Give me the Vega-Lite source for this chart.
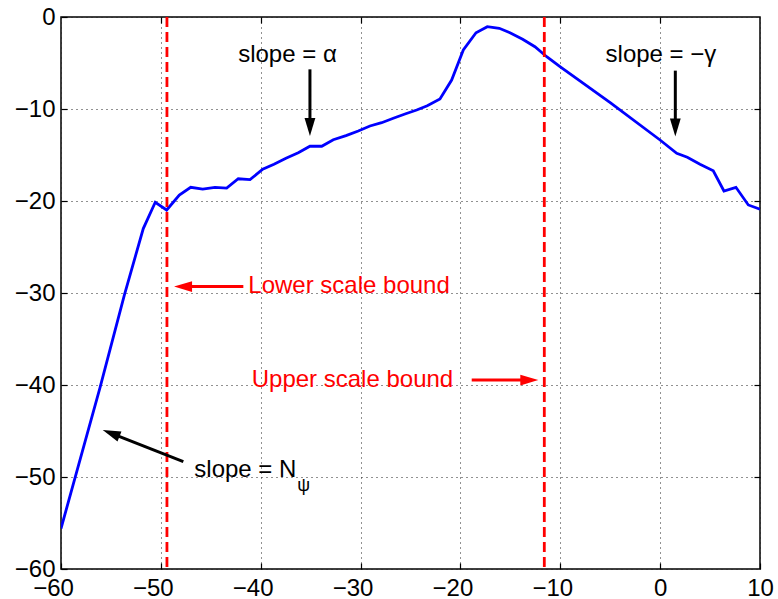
{
  "$schema": "https://vega.github.io/schema/vega-lite/v6.json",
  "width": 699,
  "height": 552,
  "autosize": {"type": "none"},
  "padding": {"left": 61, "top": 17, "right": 18, "bottom": 30},
  "background": "white",
  "config": {
    "view": {"stroke": "black", "strokeWidth": 1.5},
    "font": "Liberation Sans",
    "axis": {
      "labelFont": "Liberation Sans",
      "labelFontSize": 24,
      "labelColor": "black",
      "domain": false,
      "tickColor": "black",
      "tickWidth": 1.2,
      "tickSize": -6,
      "labelFlush": false,
      "labelOverlap": false,
      "labelBound": false,
      "title": null
    }
  },
  "datasets": {
    "curve": [
      {"x": -60.0, "y": -55.6},
      {"x": -56.1, "y": -40.3},
      {"x": -53.65, "y": -30.2},
      {"x": -51.76, "y": -23.0},
      {"x": -50.56, "y": -20.14},
      {"x": -49.42, "y": -20.98},
      {"x": -48.15, "y": -19.35},
      {"x": -47.01, "y": -18.51},
      {"x": -45.81, "y": -18.7},
      {"x": -44.58, "y": -18.51},
      {"x": -43.41, "y": -18.59},
      {"x": -42.25, "y": -17.58},
      {"x": -41.07, "y": -17.68},
      {"x": -39.8, "y": -16.55},
      {"x": -38.67, "y": -16.01},
      {"x": -37.47, "y": -15.36},
      {"x": -36.24, "y": -14.75},
      {"x": -35.07, "y": -14.05},
      {"x": -33.89, "y": -14.05},
      {"x": -32.73, "y": -13.34},
      {"x": -31.46, "y": -12.9},
      {"x": -30.23, "y": -12.39},
      {"x": -29.06, "y": -11.85},
      {"x": -27.89, "y": -11.49},
      {"x": -26.72, "y": -11.01},
      {"x": -25.55, "y": -10.54},
      {"x": -24.38, "y": -10.11},
      {"x": -23.32, "y": -9.64},
      {"x": -22.05, "y": -8.91},
      {"x": -20.88, "y": -6.85},
      {"x": -19.71, "y": -3.59},
      {"x": -18.44, "y": -1.71},
      {"x": -17.31, "y": -1.05},
      {"x": -16.11, "y": -1.23},
      {"x": -15.04, "y": -1.71},
      {"x": -13.77, "y": -2.42},
      {"x": -12.54, "y": -3.23},
      {"x": -11.36, "y": -4.32},
      {"x": -10.03, "y": -5.4},
      {"x": -5.0, "y": -9.3},
      {"x": -0.01, "y": -13.37},
      {"x": 1.66, "y": -14.82},
      {"x": 2.72, "y": -15.25},
      {"x": 3.99, "y": -16.01},
      {"x": 5.32, "y": -16.71},
      {"x": 6.39, "y": -18.91},
      {"x": 7.59, "y": -18.51},
      {"x": 8.83, "y": -20.43},
      {"x": 10.0, "y": -20.9}
    ],
    "bounds": [{"x": -49.39}, {"x": -11.6}],
    "blackShafts": [
      {"x": -35.07, "y": -5.69, "x2": -35.07, "y2": -12.1},
      {"x": 1.52, "y": -5.83, "x2": 1.52, "y2": -12.1},
      {"x": -47.75, "y": -48.33, "x2": -55.08, "y2": -45.2}
    ],
    "redShafts": [
      {"x": -41.74, "y": -29.3, "x2": -47.88, "y2": -29.3},
      {"x": -18.87, "y": -39.46, "x2": -13.0, "y2": -39.46}
    ],
    "headsDown": [{"x": -35.07, "y": -12.93}, {"x": 1.52, "y": -13.0}],
    "headsUpLeft": [{"x": -55.82, "y": -44.89}],
    "headsLeft": [{"x": -48.68, "y": -29.3}],
    "headsRight": [{"x": -12.2, "y": -39.46}],
    "textsCenter": [
      {"x": -37.32, "y": -4.89, "label": "slope = α"},
      {"x": 0.08, "y": -4.86, "label": "slope = −γ"}
    ],
    "textsLeft": [{"x": -46.65, "y": -50.03, "label": "slope = N"}],
    "textsSub": [{"x": -35.7, "y": -51.49, "label": "ψ"}],
    "textsRed": [
      {"x": -41.24, "y": -30.04, "label": "Lower scale bound"},
      {"x": -40.9, "y": -40.25, "label": "Upper scale bound"}
    ]
  },
  "resolve": {"axis": {"x": "independent", "y": "independent"}},
  "layer": [
    {
      "data": {"name": "curve"},
      "mark": {"type": "line", "color": "#0000ff", "strokeWidth": 2.8, "clip": true},
      "encoding": {
        "x": {
          "field": "x", "type": "quantitative",
          "scale": {"domain": [-60, 10], "nice": false, "zero": false},
          "axis": {
            "orient": "bottom",
            "values": [-60, -50, -40, -30, -20, -10, 0, 10],
            "grid": true, "gridColor": "#222", "gridDash": [1, 4], "gridWidth": 1,
            "labelPadding": 13,
            "labelOffset": {"condition": {"test": "datum.value < 0", "value": -8}, "value": 0}
          }
        },
        "y": {
          "field": "y", "type": "quantitative",
          "scale": {"domain": [-60, 0], "nice": false, "zero": false},
          "axis": {
            "orient": "left",
            "values": [-60, -50, -40, -30, -20, -10, 0],
            "grid": true, "gridColor": "#222", "gridDash": [1, 4], "gridWidth": 1,
            "labelPadding": 12
          }
        }
      }
    },
    {
      "data": {"name": "bounds"},
      "mark": {"type": "rule", "color": "#ff0000", "strokeWidth": 2.8, "strokeDash": [10, 5]},
      "encoding": {
        "x": {"field": "x", "type": "quantitative", "axis": null}
      }
    },
    {
      "data": {"name": "blackShafts"},
      "mark": {"type": "rule", "color": "black", "strokeWidth": 3},
      "encoding": {
        "x": {"field": "x", "type": "quantitative",
              "axis": {"orient": "top", "labels": false, "grid": false, "values": [-50, -40, -30, -20, -10, 0]}},
        "y": {"field": "y", "type": "quantitative",
              "axis": {"orient": "right", "labels": false, "grid": false, "values": [-50, -40, -30, -20, -10]}},
        "x2": {"field": "x2"},
        "y2": {"field": "y2"}
      }
    },
    {
      "data": {"name": "redShafts"},
      "mark": {"type": "rule", "color": "#ff0000", "strokeWidth": 3},
      "encoding": {
        "x": {"field": "x", "type": "quantitative", "axis": null},
        "y": {"field": "y", "type": "quantitative", "axis": null},
        "x2": {"field": "x2"},
        "y2": {"field": "y2"}
      }
    },
    {
      "data": {"name": "headsDown"},
      "mark": {"type": "point", "shape": "M0,0L-0.6,2L0.6,2Z", "size": 324, "filled": true, "color": "black", "opacity": 1, "angle": 180},
      "encoding": {
        "x": {"field": "x", "type": "quantitative", "axis": null},
        "y": {"field": "y", "type": "quantitative", "axis": null}
      }
    },
    {
      "data": {"name": "headsUpLeft"},
      "mark": {"type": "point", "shape": "M0,0L-0.6,2L0.6,2Z", "size": 324, "filled": true, "color": "black", "opacity": 1, "angle": 291.5},
      "encoding": {
        "x": {"field": "x", "type": "quantitative", "axis": null},
        "y": {"field": "y", "type": "quantitative", "axis": null}
      }
    },
    {
      "data": {"name": "headsLeft"},
      "mark": {"type": "point", "shape": "M0,0L-0.6,2L0.6,2Z", "size": 324, "filled": true, "color": "#ff0000", "opacity": 1, "angle": 270},
      "encoding": {
        "x": {"field": "x", "type": "quantitative", "axis": null},
        "y": {"field": "y", "type": "quantitative", "axis": null}
      }
    },
    {
      "data": {"name": "headsRight"},
      "mark": {"type": "point", "shape": "M0,0L-0.6,2L0.6,2Z", "size": 324, "filled": true, "color": "#ff0000", "opacity": 1, "angle": 90},
      "encoding": {
        "x": {"field": "x", "type": "quantitative", "axis": null},
        "y": {"field": "y", "type": "quantitative", "axis": null}
      }
    },
    {
      "data": {"name": "textsCenter"},
      "mark": {"type": "text", "font": "Liberation Sans", "fontSize": 24, "color": "black", "align": "center", "baseline": "alphabetic"},
      "encoding": {
        "x": {"field": "x", "type": "quantitative", "axis": null},
        "y": {"field": "y", "type": "quantitative", "axis": null},
        "text": {"field": "label"}
      }
    },
    {
      "data": {"name": "textsLeft"},
      "mark": {"type": "text", "font": "Liberation Sans", "fontSize": 24, "color": "black", "align": "left", "baseline": "alphabetic"},
      "encoding": {
        "x": {"field": "x", "type": "quantitative", "axis": null},
        "y": {"field": "y", "type": "quantitative", "axis": null},
        "text": {"field": "label"}
      }
    },
    {
      "data": {"name": "textsSub"},
      "mark": {"type": "text", "font": "Liberation Sans", "fontSize": 18, "color": "black", "align": "center", "baseline": "alphabetic"},
      "encoding": {
        "x": {"field": "x", "type": "quantitative", "axis": null},
        "y": {"field": "y", "type": "quantitative", "axis": null},
        "text": {"field": "label"}
      }
    },
    {
      "data": {"name": "textsRed"},
      "mark": {"type": "text", "font": "Liberation Sans", "fontSize": 24, "color": "#ff0000", "align": "left", "baseline": "alphabetic"},
      "encoding": {
        "x": {"field": "x", "type": "quantitative", "axis": null},
        "y": {"field": "y", "type": "quantitative", "axis": null},
        "text": {"field": "label"}
      }
    }
  ]
}
